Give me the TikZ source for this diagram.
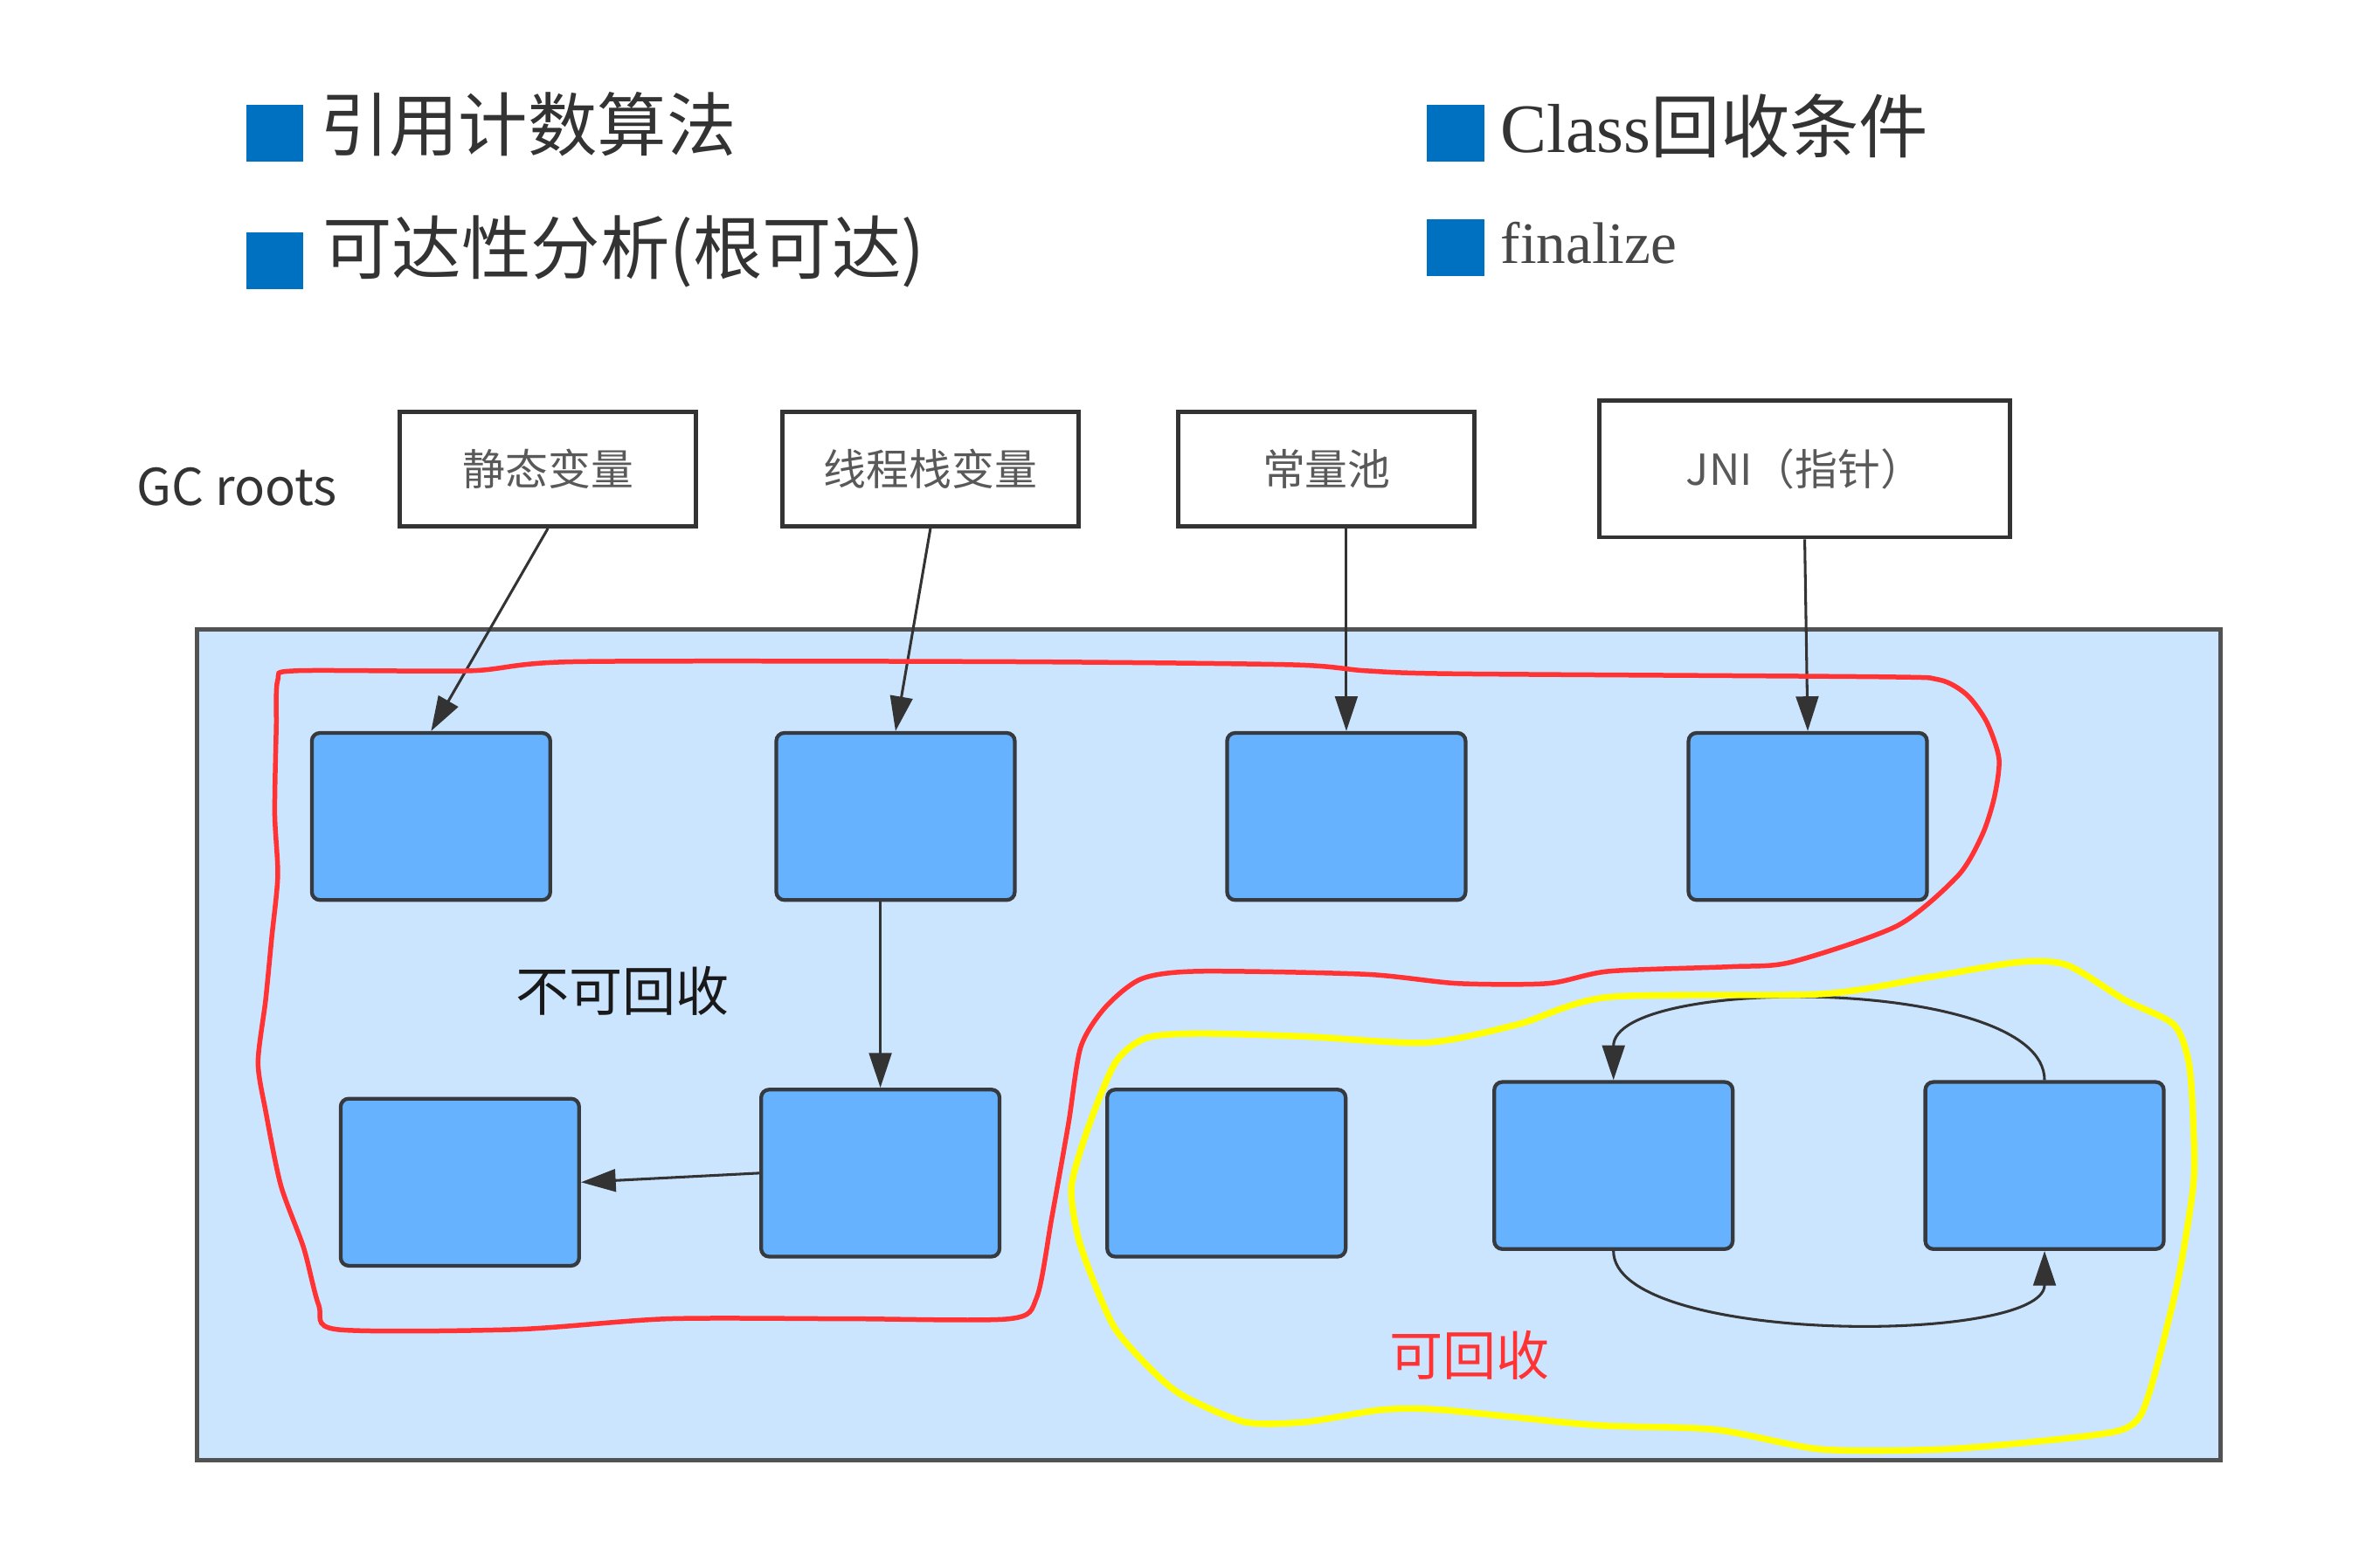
\documentclass[tikz,border=0pt]{standalone}
\usepackage{fontspec}
\setmainfont{Liberation Serif}
\newfontfamily\cjkfont{Noto Sans CJK SC}
\usetikzlibrary{positioning,arrows.meta}
\definecolor{bullet1}{HTML}{0070C0}
\definecolor{heap1}{HTML}{CCE5FF}
\definecolor{obj1}{HTML}{66B2FF}
\definecolor{edge1}{HTML}{36393D}
\definecolor{gray1}{HTML}{595959}
\definecolor{ink1}{HTML}{333333}
\definecolor{red1}{HTML}{FF3333}
\definecolor{yellow1}{HTML}{FFFF00}

\begin{document}
\begin{tikzpicture}[
    x=0.01cm, y=-0.01cm,
    >={Triangle[length=6.5pt,width=4.2pt]},
    bullet/.style={fill=bullet1, minimum size=0.375cm, inner sep=0pt},
    title/.style={anchor=west, inner sep=0pt, text=ink1,
                  font=\cjkfont\fontsize{13}{15}\selectfont},
    root/.style={draw=ink1, line width=0.8pt, fill=white,
                 minimum width=1.95cm, minimum height=0.755cm, text=gray1,
                 font=\cjkfont\fontsize{8}{10}\selectfont},
    obj/.style={draw=edge1, line width=0.7pt, fill=obj1,
                rounded corners=1.5pt, minimum width=1.57cm, minimum height=1.1cm},
    ref/.style={->, draw=ink1, fill=none, line width=0.5pt},
    mark1/.style={font=\cjkfont\fontsize{10}{12}\selectfont},
]
\useasboundingbox (0,0) rectangle (1568,1015.4);

% Headings
\node[bullet] (b1) at (181,88) {};
\node[title] (t1) at (210,82) {引用计数算法};
\node[bullet] (b2) at (181,172) {};
\node[title] (t2) at (212,166) {可达性分析(根可达)};
\node[bullet] (b3) at (959,88) {};
\node[title] (t3) at (988,83) {{\rmfamily Class}回收条件};
\node[bullet] (b4) at (959,163) {};
\node[title, font=\rmfamily\fontsize{11}{13}\selectfont, text=ink1!90]
    (t4) at (988,160) {finalize};

% GC roots
\node[text=ink1, font=\cjkfont\fontsize{9.5}{11}\selectfont] (gcr) at (156,321) {GC roots};
\node[root] (r1) at (361,309) {静态变量};
\node[root] (r2) at (613,309) {线程栈变量};
\node[root] (r3) at (874,309) {常量池};
\node[root, minimum width=2.7cm, minimum height=0.9cm] (r4) at (1189,309) {JNI（指针）};

% Heap
\draw[draw=ink1!85, line width=0.8pt, fill=heap1] (130,415) rectangle (1463,962);

\node[obj] (a1) at (284,538) {};
\node[obj] (a2) at (590,538) {};
\node[obj] (a3) at (887,538) {};
\node[obj] (a4) at (1191,538) {};
\node[obj] (c1) at (303,779) {};
\node[obj] (c2) at (580,773) {};
\node[obj] (c3) at (808,773) {};
\node[obj] (c4) at (1063,768) {};
\node[obj] (c5) at (1347,768) {};

% References
\draw[ref] (r1.south) -- (a1.north);
\draw[ref] (r2.south) -- (a2.north);
\draw[ref] (a3.north |- r3.south) -- (a3.north);
\draw[ref] (r4.south) -- (a4.north);
\draw[ref] (c2.north |- a2.south) -- (c2.north);
\draw[ref] (c2.west) -- (c1.east);
\draw[ref] (c5.north) .. controls +(0,-69) and +(0,-69) .. (c4.north);
\draw[ref] (c4.south) .. controls +(0,62) and +(0,62) .. (c5.south);

% Labels
\node[mark1, text=black!90] (keep) at (410,653) {不可回收};
\node[mark1, text=red1] (free) at (968,893) {可回收};

% Hand-drawn outlines
\draw[red1, line width=0.9pt] plot[smooth cycle, tension=0.45] coordinates {
    (183,448) (182,480) (181,536) (183,577) (179,618) (175,659) (170,700)
    (175,732) (185,781) (200,822) (210,860) (222,876) (340,876) (440,869)
    (560,869) (665,869) (683,855) (693,802) (704,740) (712,690) (728,664)
    (752,645) (790,640) (900,642) (960,648) (1020,648) (1060,640) (1140,637)
    (1180,634) (1250,610) (1290,577) (1306,550) (1314,525) (1317,500)
    (1309,476) (1296,458) (1278,448) (1240,446) (960,444) (900,442)
    (850,438) (660,436) (380,436) (310,442) (195,442)};
\draw[yellow1, line width=1.2pt] plot[smooth cycle, tension=0.45] coordinates {
    (735,700) (755,684) (790,681) (860,683) (940,687) (1000,675) (1060,657)
    (1200,655) (1270,644) (1330,634) (1362,636) (1400,659) (1432,675)
    (1442,700) (1445,740) (1445,781) (1435,843) (1420,904) (1410,933)
    (1395,943) (1350,949) (1280,955) (1200,955) (1130,942) (1050,939)
    (950,929) (910,929) (860,937) (820,937) (780,920) (760,904) (735,876)
    (720,843) (710,814) (706,781) (718,740)};
\end{tikzpicture}
\end{document}
